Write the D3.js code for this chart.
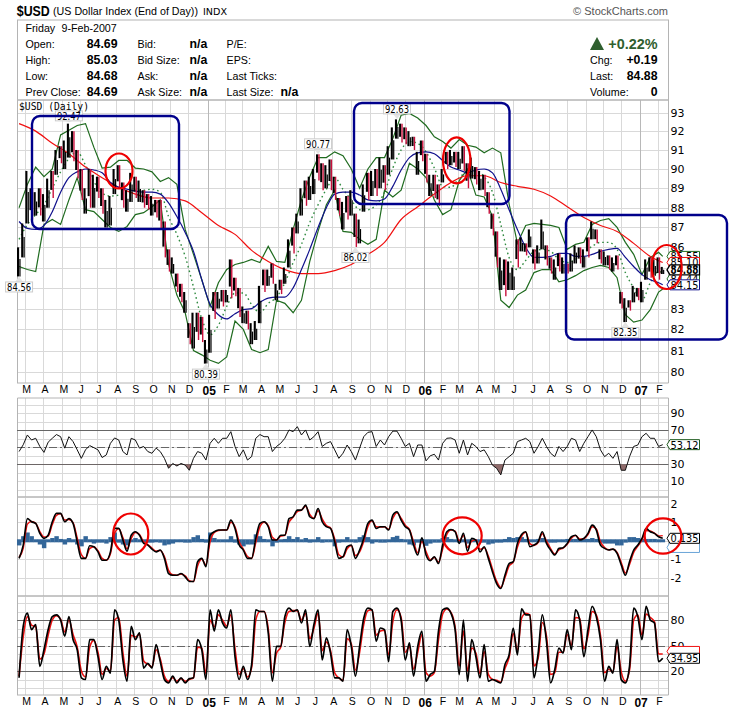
<!DOCTYPE html>
<html><head><meta charset="utf-8">
<script src="https://d3js.org/d3.v7.min.js"></script>
<style>
html,body{margin:0;padding:0;background:#fff}
svg{display:block}
text{font-family:"Liberation Sans",Arial,sans-serif;fill:#000}
.tick text{font-family:"DejaVu Sans",sans-serif}
</style></head><body><div id="c"></div>
<script>
// ---------- weekly price readings (13 per row = one quarter) ----------
const priceHigh = [
86.0,87.2,89.9,89.0,88.8,89.0,88.7,89.5,89.9,91.0,91.2,91.5,92.4,
92.0,91.0,90.0,89.0,90.0,89.7,89.6,89.0,88.4,88.6,90.0,90.2,89.3,
88.9,89.8,89.6,89.4,88.9,88.7,88.6,88.4,88.4,87.3,85.9,85.5,84.7,
84.2,83.8,82.3,82.8,82.8,82.6,81.5,82.7,83.8,83.8,83.9,83.9,85.4,
84.5,84.0,83.1,82.9,82.3,82.4,84.1,84.9,84.9,85.2,84.2,84.4,85.0,
86.4,87.0,87.7,89.0,89.4,89.6,90.0,90.77,90.3,90.2,90.5,89.6,88.5,
88.3,88.6,88.9,87.7,87.4,89.2,89.8,89.9,90.0,90.6,90.2,91.2,92.2,
92.63,92.4,92.2,92.0,91.7,90.9,91.5,90.8,89.7,89.7,89.2,90.0,90.9,
91.0,90.9,90.9,91.2,90.3,90.6,90.1,89.9,89.7,88.8,87.7,86.8,85.5,
85.4,85.3,85.0,86.4,86.5,86.2,86.9,85.9,86.1,87.4,86.1,85.5,85.4,
85.7,85.5,85.2,85.7,86.1,86.0,85.9,86.5,87.3,86.9,85.9,85.8,85.6,
85.5,85.6,83.8,83.5,83.4,84.1,84.0,84.3,85.4,85.5,85.4,85.5,85.03];
const priceLow = [
84.56,85.5,87.2,87.4,87.6,87.6,87.3,88.0,88.5,89.7,90.3,90.0,90.6,
90.4,89.5,88.4,87.7,88.0,88.0,88.5,87.7,87.0,87.1,88.7,89.0,88.0,
87.8,88.3,88.5,88.3,88.0,87.9,87.6,87.5,86.9,85.5,84.8,84.7,83.8,
83.3,82.8,81.3,81.1,81.5,81.4,80.39,80.9,82.5,83.0,83.1,83.3,83.5,
83.6,82.6,82.3,82.0,81.3,81.5,82.3,83.8,84.1,84.2,83.4,83.7,84.2,
85.0,85.7,86.7,87.6,88.1,88.4,88.7,89.4,88.9,89.0,88.9,88.4,87.6,
86.9,87.4,87.6,86.02,86.2,87.8,88.4,88.6,88.6,89.0,88.9,89.7,90.5,
91.6,91.4,91.3,91.2,91.0,89.7,90.4,89.3,88.6,88.5,88.1,89.3,90.0,
90.2,90.1,90.0,89.9,89.0,89.5,89.2,88.9,88.6,87.7,86.6,85.0,83.9,
83.6,83.9,83.9,85.0,85.8,85.6,86.0,84.9,85.2,85.9,85.1,84.7,84.4,
84.8,84.7,84.7,84.8,85.2,85.2,85.0,85.5,86.4,86.2,85.2,85.1,84.9,
84.8,84.9,83.0,82.35,82.9,83.3,83.4,83.3,84.4,84.5,84.6,84.4,84.68];
const downWeek = [
0,0,0,1,0,1,0,0,1,0,1,0,0,
1,1,1,0,1,0,1,1,0,0,0,1,1,
0,0,1,0,1,1,0,1,1,1,1,0,1,
1,0,1,0,1,1,0,0,1,0,1,0,1,
1,1,0,1,0,0,0,1,0,1,0,1,0,
0,1,0,0,1,0,0,1,1,0,1,1,1,
0,1,0,1,0,0,1,0,1,0,1,0,0,
0,1,1,0,1,0,1,1,0,1,1,0,1,
0,1,0,1,1,0,1,0,1,1,1,1,0,
1,0,0,1,0,1,0,1,0,0,1,1,0,
1,0,1,0,0,1,0,1,0,1,1,0,1,
0,1,1,0,1,0,1,0,0,1,0,1,0];
// ---------- overlays read every 2 weeks (plus the final day) ----------
const bbUpper = [
88.0,89.2,90.1,89.6,90.0,91.8,92.05,92.3,92.4,91.15,90.05,90.1,90.45,
90.45,90.05,90.0,89.85,89.35,89.55,89.2,86.9,85.65,84.4,83.1,84.25,84.9,
85.15,85.25,85.4,85.25,86.05,85.3,85.25,86.9,88.4,89.6,90.6,90.6,90.9,
90.7,90.0,89.0,90.0,90.6,90.6,91.6,92.85,92.95,92.7,92.3,91.7,91.45,
91.1,91.55,91.25,91.15,90.85,91.1,90.85,88.2,86.2,87.1,87.2,87.15,87.1,
87.0,85.9,86.15,86.25,87.15,87.35,87.45,87.0,86.25,85.65,84.65,85.5,85.75,85.55];
const bbLower = [
85.05,84.9,84.8,87.15,87.4,87.15,88.4,89.55,87.9,87.8,87.4,87.0,86.8,
87.05,87.65,87.75,88.05,88.4,85.15,83.65,82.8,81.0,80.8,80.55,80.4,80.7,
82.4,82.0,81.05,80.9,81.05,83.4,83.25,82.8,83.4,85.3,86.8,88.15,88.9,
86.8,86.75,86.4,86.15,86.4,88.9,88.55,88.9,90.3,90.0,89.55,88.4,87.65,
87.9,89.4,90.0,88.65,88.55,87.55,83.4,83.05,83.65,83.9,84.75,84.9,84.9,
84.3,84.4,84.6,84.85,85.0,85.1,85.0,84.5,82.7,82.35,82.45,82.95,83.8,83.95];
const bbMiddle = [
86.4,87.15,87.65,88.15,89.0,89.85,90.55,90.9,90.2,89.35,88.75,88.6,88.65,
88.8,88.9,88.9,88.95,88.8,87.55,86.65,85.55,84.05,82.5,81.75,82.2,83.1,
83.75,83.75,83.2,82.8,83.25,83.55,84.25,85.25,86.15,87.25,88.15,88.95,89.55,
88.95,88.4,87.9,87.9,88.15,88.8,90.05,91.0,91.45,91.35,90.9,90.05,89.1,
89.05,89.55,89.85,89.9,89.6,88.8,87.15,85.5,84.9,85.35,85.8,85.9,85.8,
85.4,85.25,85.4,85.75,86.05,86.25,86.25,85.9,84.75,84.0,83.4,84.25,84.8,84.75];
const ma50 = [
87.3,86.95,86.9,87.1,87.8,88.8,89.55,89.85,90.0,89.95,89.8,89.3,89.05,
88.95,88.85,88.8,88.8,88.7,88.25,87.55,86.75,85.8,84.4,83.2,82.7,82.5,
82.75,82.95,83.0,83.3,83.5,83.55,83.55,84.0,84.9,85.9,87.0,88.0,88.7,
88.8,88.8,88.65,88.4,88.35,88.45,89.1,89.95,90.6,90.85,90.9,90.8,90.45,
90.1,89.95,89.8,89.95,90.0,89.8,88.95,87.9,86.9,86.0,85.5,85.5,85.55,
85.7,85.7,85.55,85.55,85.65,85.8,85.9,85.95,85.5,85.05,84.65,84.4,84.25,84.15];
// read every 4 weeks (plus the final day)
const ma200 = [
92.4,92.0,91.35,90.8,90.1,89.55,89.05,88.7,88.5,88.5,88.35,87.75,87.1,86.65,85.85,85.3,84.9,84.7,84.7,84.85,
85.15,85.65,86.25,87.4,88.05,88.7,89.3,89.65,89.65,89.3,89.1,88.95,88.6,88.05,87.5,87.1,86.8,86.2,85.55,85.25];
// ---------- RSI ----------
const rsi = [
45,53,64.5,58.6,60.6,51,44,56,60.6,65,62.5,49,62.5,
56.7,47,37,47,52,49.6,47,38,41,54.7,61,58.6,45,
41,60.6,58.6,49,51,45,43,49,45,37,25.3,31,28,
31,29,23,37,45,43,35,54.7,60.6,54.7,60.6,60.6,68.4,
51,39,47,35,39,60.6,65,62.5,62.5,45,51,54.7,60.6,
70.4,68.4,74.3,64.5,70.4,58.6,62.5,68.4,51,54.7,56.7,47,37,
43,52.7,45,35,49,62.5,67.6,68.4,51,58.6,52.7,62.5,69,
69,60.6,51,54.7,39,52.7,52.7,34,40,41.8,35,54.7,60.6,
61,58.6,43,58.6,41,54.7,51,45,47,39,29,25.3,17.5,
35,39,43,56.7,58.6,60.6,56.7,43,51,60.6,51,43,39,
51,45,51,60.6,58.6,45,54.7,62.5,70.4,62.5,47,39,43,
37,45,23,23,39,51,52.7,62.5,66.5,60.6,60.6,51,53.12];
// ---------- MACD ----------
const macdLine = [
-.95,-.23,1.2,1.03,.94,.4,.13,.3,1.03,1.48,1.48,1.03,1.2,
.94,-.05,-.95,-.95,-.27,-.32,-.6,-1.05,-1.05,-.6,.67,.67,.04,
-.56,.3,.49,.3,-.14,-.23,-.45,-.6,-.5,-.95,-1.77,-1.86,-1.86,
-1.77,-1.95,-2.2,-2.2,-1.13,-.95,-1.4,.3,.49,.58,.58,.58,1.12,
.67,-.23,-.5,-.95,-.95,.13,.94,1.03,.76,.04,.04,.3,.3,
1.2,1.3,1.66,1.66,1.93,1.3,1.2,1.75,1.03,.76,.67,-.05,-.95,
-.86,-.32,-.23,-.95,-.5,.13,.94,1.12,.67,.76,.76,.58,1.39,
1.57,1.12,.76,.58,-.23,-.77,.16,-.77,-1.08,-.86,-1.23,-.23,.49,
.61,.49,-.14,.4,-.56,.13,.04,-.6,-.32,-.95,-1.68,-2.31,-2.58,
-1.86,-1.23,-1.13,-.14,.34,.49,-.32,-.23,-.05,.49,-.14,-.5,-.77,
-.41,-.38,-.14,.22,.3,.04,.13,.4,.85,.58,-.23,-.41,-.5,
-.45,-.68,-1.3,-1.86,-1.13,-.5,-.23,.13,.67,.49,.4,.22,.135];
const macdSignal = [
-.9,-.4,.9,1.05,.95,.5,.2,.25,.88,1.38,1.46,1.12,1.15,
.98,.15,-.75,-.95,-.42,-.32,-.54,-.95,-1.05,-.7,.4,.65,.17,
-.43,.12,.45,.34,-.05,-.2,-.4,-.56,-.52,-.85,-1.6,-1.84,-1.86,
-1.79,-1.9,-2.15,-2.2,-1.35,-1.0,-1.3,-.05,.45,.56,.58,.58,1.0,
.76,-.05,-.45,-.85,-.95,-.1,.77,1.0,.82,.19,.04,.25,.3,
1.0,1.28,1.58,1.66,1.87,1.43,1.22,1.63,1.18,.82,.69,.1,-.76,
-.88,-.43,-.25,-.8,-.6,-.02,.77,1.08,.76,.74,.76,.62,1.22,
1.52,1.22,.84,.62,-.06,-.65,-.04,-.58,-1.02,-.9,-1.15,-.44,.34,
.58,.52,0,.28,-.36,-.02,.06,-.46,-.38,-.82,-1.53,-2.18,-2.52,
-2.0,-1.36,-1.15,-.35,.24,.46,-.15,-.25,-.09,.38,-.01,-.42,-.71,
-.49,-.39,-.19,.14,.28,.1,.11,.34,.76,.64,-.06,-.37,-.48,
-.46,-.63,-1.17,-1.74,-1.28,-.63,-.29,.05,.56,.53,.42,.26,.28];
const macdHist = [
-.25,.25,.45,.25,0,-.2,-.4,.05,.15,.25,.1,-.2,.15,
.05,-.2,-.3,.25,0,-.15,-.1,-.1,-.15,.2,.45,-.1,-.2,
-.25,.05,.15,.05,-.05,-.1,-.1,0,-.1,-.25,-.2,-.15,0,
-.05,-.1,-.1,.2,.3,.1,-.1,.45,.15,.05,-.05,0,.25,
-.1,-.2,-.3,-.2,-.2,.35,.25,.1,0,-.3,-.1,.05,.1,
.25,.1,.2,0,.15,-.1,0,.2,-.1,-.05,-.05,-.3,-.1,
.05,.2,0,-.1,.2,.3,.2,-.15,-.05,-.1,-.1,-.05,.2,
.27,.1,-.05,-.2,-.25,-.1,.1,-.27,-.15,-.1,-.1,.15,.2,
.1,.05,-.1,.05,-.15,.05,.05,-.1,-.1,-.2,-.15,-.1,-.1,
.1,.2,.15,.2,.2,.1,-.05,.05,.1,.15,-.05,-.1,-.1,
0,.05,.1,.1,.1,0,.1,.1,.15,.1,-.1,-.15,-.15,
-.15,-.25,-.25,-.1,.2,.2,.15,.1,.1,.1,.1,.05,.05];
// ---------- Stochastics ----------
const stochFast = [
12,72.5,88,68.6,74.5,25.5,45,68.6,84,86,80,61,84,
57,45,12,10,57,57,37,10,25.5,17.6,92,80,33,
8,72.5,57,65,23.5,29,23.5,51,31,10,6,14,6,
12,6,11,12,57,45,10,92,67,92,76.5,70.6,92,
37,10,25.5,10,27.5,92,90,90,65,8,49,49,84,
94,90,92,76.5,92,49,74.5,92,33,59,41,12,12,
8,68.6,49,14,49,82,94,92,55,70.6,68.6,31,90,
94,80,33,53,14,49,67,8,15.7,19.6,67,92,94,
88,68.6,15.7,80,8,57,37,12,51,8,10,8,6,
27.5,39,70.6,39,93,86,86,12,41,86,55,6,21.6,
47,41,68.6,45,92,80,37,68.6,96,84,57,8,25.5,
17.6,57,10,6,25.5,94,84,57,96,80,76.5,31,34.95];
const stochSlow = [
14,60,84,74,72,34,40,62,80,85,81,66,80,
63,48,20,13,48,56,42,16,23,20,80,83,42,
14,62,60,63,32,28,25,45,34,14,8,12,8,
11,8,10,12,48,47,17,80,72,86,80,73,86,
46,16,23,13,24,80,90,90,70,18,41,48,77,
90,91,91,80,88,58,70,88,44,54,44,18,12,
9,58,52,21,42,75,91,92,62,67,68,39,78,
92,83,42,49,22,42,63,18,14,18,57,87,93,
89,72,26,67,20,47,41,17,43,16,10,9,7,
23,36,64,45,82,88,86,26,35,77,61,16,18,
42,42,63,50,83,82,46,62,90,86,62,18,22,
19,49,19,8,21,80,86,62,87,83,78,40,40];
// ---------- axis and label lists ----------
const monthLabels = ["M","A","M","J","J","A","S","O","N","D","05","F","M","A","M","J","J","A","S","O","N","D","06","F","M","A","M","J","J","A","S","O","N","D","07","F"];
const priceGrid = [80,81,82,83,84,85,86,87,88,89,90,91,92,93];
const priceTicks = [80,81,82,83,86,87,88,89,90,91,92,93];
const rsiTicks = [10,30,70,90];
const macdTicks = [-2,-1,1,2];
const stochTicks = [20,50,80];
const peakWeeks = [12,0,45,72,81,91,146];
const peakValues = [92.47,84.56,80.39,90.77,86.02,92.63,82.35];
const peakGap = [-6.5,10.5,10.5,-10.5,10.5,-10.5,10.5];

const W=734,H=712,L=17,R=668.5;
const svg=d3.select("#c").append("svg").attr("width",W).attr("height",H).attr("viewBox",`0 0 ${W} ${H}`);
const x=d3.scaleTime().domain([new Date(2004,2,1),new Date(2007,1,1)]).range([25,658]);
const week0=new Date(2004,1,20);
const wk=i=>x(d3.timeDay.offset(week0,7*i));
const xAt2=k=>wk(Math.min(2*k,155));
const xAt4=k=>wk(Math.min(4*k,155));
const months=d3.timeMonth.range(new Date(2004,2,1),new Date(2007,2,1)).map(d=>{const w=d.getDay();return w===6?d3.timeDay.offset(d,2):w===0?d3.timeDay.offset(d,1):d;});

const yP=d3.scaleLog().domain([80,93]).range([372,112.5]);
const yR=d3.scaleLinear().domain([10,90]).range([481.3,413.3]);
const yM=d3.scaleLinear().domain([-2,2]).range([577.8,503.8]);
const yS=d3.scaleLinear().domain([20,80]).range([671,620]);

// ----- panel backgrounds & grid
const GRID="#d9d9d9",FRAME="#b4b4b4";
function panel(top,bot,ys,vals){
  const g=svg.append("g");
  g.selectAll("line.h").data(vals).join("line").attr("x1",L).attr("x2",R).attr("y1",d=>Math.round(ys(d))+.5).attr("y2",d=>Math.round(ys(d))+.5).attr("stroke",GRID);
  g.selectAll("line.v").data(months).join("line").attr("y1",top).attr("y2",bot)
    .attr("x1",d=>Math.round(x(d))+.5).attr("x2",d=>Math.round(x(d))+.5)
    .attr("stroke",d=>d.getMonth()===0?"#b8b8b8":GRID);
  g.append("path").attr("d",`M${L}.5 ${bot}V${top}H${R}V${bot}H${L}`).attr("fill","none").attr("stroke",FRAME);
}
panel(100,383,yP,priceGrid);
panel(398,497,yR,d3.range(0,101,10));
panel(497,596,yM,[-2,-1,0,1,2]);
panel(596,695,yS,d3.range(0,101,10));

// ----- right axes
function rightAxis(scale,vals){
  const a=svg.append("g").attr("transform",`translate(${R},0)`).call(d3.axisRight(scale).tickValues(vals).tickSize(0).tickPadding(2).tickFormat(d=>d));
  a.select(".domain").remove();
  a.selectAll("text").attr("font-size",11).style("fill","#000");
}
rightAxis(yP,priceTicks);rightAxis(yR,rsiTicks);rightAxis(yM,macdTicks);rightAxis(yS,stochTicks);

// ----- bottom month labels
function monthAxis(yPos){
  const a=svg.append("g").attr("transform",`translate(0,${yPos})`).call(d3.axisBottom(x).tickValues(months).tickSize(0).tickPadding(0).tickFormat((d,i)=>monthLabels[i]));
  a.select(".domain").remove();
  a.selectAll("text").attr("font-size",d=>d.getMonth()===0?12:10.5).attr("font-weight",d=>d.getMonth()===0?"bold":"normal").style("font-family",'"Liberation Sans",sans-serif').style("fill","#000").attr("dx",1);
}
monthAxis(386);monthAxis(698);

// ----- reference lines in lower panels
function hline(ys,v,dash){svg.append("line").attr("x1",L).attr("x2",R).attr("y1",Math.round(ys(v))+.5).attr("y2",Math.round(ys(v))+.5).attr("stroke","#666").attr("stroke-dasharray",dash||null);}
[70,30].forEach(v=>hline(yR,v));hline(yR,50,"8 3 2 3");
[80,20].forEach(v=>hline(yS,v));hline(yS,50,"8 3 2 3");

// ----- price overlays
const line=(xf,yf)=>d3.line().x((d,i)=>xf(i)).y(d=>yf(d));
const smooth=(xf,yf)=>line(xf,yf).curve(d3.curveMonotoneX);
svg.append("path").attr("d",smooth(xAt2,yP)(bbMiddle)).attr("fill","none").attr("stroke","#2f8a3f").attr("stroke-width",1.4).attr("stroke-dasharray","1.6 3");
svg.append("path").attr("d",line(xAt2,yP)(bbUpper)).attr("fill","none").attr("stroke","#1f6b1f").attr("stroke-width",1.2);
svg.append("path").attr("d",line(xAt2,yP)(bbLower)).attr("fill","none").attr("stroke","#1f6b1f").attr("stroke-width",1.2);
svg.append("path").attr("d",smooth(xAt4,yP)(ma200)).attr("fill","none").attr("stroke","#f01010").attr("stroke-width",1.2);
svg.append("path").attr("d",smooth(xAt2,yP)(ma50)).attr("fill","none").attr("stroke","#10108c").attr("stroke-width",1.2);

// ----- price bars: a black stroke plus a red or black companion each week
const bars=svg.append("g");
bars.selectAll("line.k").data(priceHigh).join("line").attr("class","k")
  .attr("x1",(d,i)=>wk(i)-1).attr("x2",(d,i)=>wk(i)-1)
  .attr("y1",d=>yP(d))
  .attr("y2",(d,i)=>downWeek[i]?yP(priceLow[i])-(yP(priceLow[i])-yP(d))*.3:yP(priceLow[i]))
  .attr("stroke","#000").attr("stroke-width",2.1);
bars.selectAll("line.c").data(priceHigh).join("line").attr("class","c")
  .attr("x1",(d,i)=>wk(i)+.9).attr("x2",(d,i)=>wk(i)+.9)
  .attr("y1",(d,i)=>downWeek[i]?yP(d):yP(priceLow[i])-(yP(priceLow[i])-yP(d))*.6)
  .attr("y2",(d,i)=>yP(priceLow[i]))
  .attr("stroke",(d,i)=>downWeek[i]?"#c8103c":"#000")
  .attr("stroke-width",(d,i)=>downWeek[i]?1.4:1.2);

// ----- RSI
const rsiArea=d3.area().x((d,i)=>wk(i)).y0(yR(30)).y1(d=>yR(d));
svg.append("clipPath").attr("id","os").append("rect").attr("x",L).attr("y",yR(30)).attr("width",R-L).attr("height",40);
svg.append("path").attr("d",rsiArea(rsi)).attr("fill","#8f6a6a").attr("clip-path","url(#os)");
svg.append("path").attr("d",line(wk,yR)(rsi)).attr("fill","none").attr("stroke","#111").attr("stroke-width",1);

// ----- MACD
const hw=wk(1)-wk(0);
svg.append("g").selectAll("rect").data(macdHist).join("rect")
  .attr("x",(d,i)=>wk(i)-hw/2).attr("width",hw+.3)
  .attr("y",d=>Math.min(yM(d),yM(0)-1.5)).attr("height",d=>Math.max(yM(d),yM(0)+1.5)-Math.min(yM(d),yM(0)-1.5))
  .attr("fill","#336699");
svg.append("path").attr("d",smooth(wk,yM)(macdSignal)).attr("fill","none").attr("stroke","#ee1111").attr("stroke-width",1.5);
svg.append("path").attr("d",smooth(wk,yM)(macdLine)).attr("fill","none").attr("stroke","#000").attr("stroke-width",1.6);

// ----- Stochastics
svg.append("path").attr("d",smooth(wk,yS)(stochSlow)).attr("fill","none").attr("stroke","#ee1111").attr("stroke-width",1.6);
svg.append("path").attr("d",smooth(wk,yS)(stochFast)).attr("fill","none").attr("stroke","#000").attr("stroke-width",1.7);

// ----- peak call-outs
peakValues.forEach((v,i)=>{
  const g=svg.append("g"),cx=wk(peakWeeks[i]),py=yP(v),gap=peakGap[i],s=Math.sign(gap),cy=py+gap;
  g.append("path").attr("d",`M${cx} ${py}L${cx-4} ${cy-s*5}H${cx+4}Z`).attr("fill","#e4e4e4");
  g.append("rect").attr("x",cx-13.5).attr("y",cy-5).attr("width",27).attr("height",10).attr("fill","#fff").attr("stroke","#ccc");
  g.append("text").attr("x",cx).attr("y",cy+3.7).attr("text-anchor","middle").attr("font-size",10).style("font-family",'"DejaVu Sans",sans-serif').attr("textLength",24).attr("lengthAdjust","spacingAndGlyphs").text(v.toFixed(2));
});

// ----- last-value tags
function tag(yc,t,col,opts={}){
  const g=svg.append("g"),top=yc-5,tip=opts.tip||667,x0=670,x1=699.5;
  g.append("path").attr("d",`M${tip} ${yc}L${x0} ${top}H${x1}V${top+10}H${x0}Z`).attr("fill","#fff").attr("stroke",col).attr("stroke-width",opts.sw||1);
  if(t) g.append("text").attr("x",x0+.5).attr("y",yc+4).attr("font-size",opts.bold?12:11).attr("font-weight",opts.bold?"bold":"normal").style("font-family",'"DejaVu Sans",sans-serif').attr("textLength",28).attr("lengthAdjust","spacingAndGlyphs").text(t);
}
tag(yP(85.55),"85.55","#1f6b1f");
tag(yP(85.25),"85.10","#f01010");
tag(yP(84.44),"84.44","#1f6b1f");
tag(yP(84.15),"84.15","#10108c");
tag(yP(84.88),"84.88","#000",{bold:true,sw:1.3});
tag(yR(53.12),"53.12","#1f5b1f");
tag(yM(-.36),"","#6aa5d8");
tag(yM(.135),"0.135","#000");
tag(yS(43),"","#f01010");
tag(yS(34.95),"34.95","#000");

// ----- header
const T=(s,px,py,o={})=>{const t=svg.append("text").attr("x",px).attr("y",py).attr("font-size",o.size||10.7).attr("font-weight",o.bold?"bold":"normal").attr("text-anchor",o.anchor||"start").style("fill",o.fill||"#000").style("font-family",o.font||null).style("letter-spacing",o.ls||null).text(s);if(o.len)t.attr("textLength",o.len).attr("lengthAdjust","spacingAndGlyphs");return t;};
T("$USD",16.8,15.8,{size:14.5,bold:true,len:33});
T("(US Dollar Index (End of Day))",53,15.3,{size:11.5,len:145});
T("INDX",203,15.3,{size:9.5,font:'"DejaVu Sans",sans-serif',len:24});
T("© StockCharts.com",668,15,{size:11,anchor:"end",fill:"#555"});
svg.append("rect").attr("x",17.5).attr("y",20).attr("width",R-17.5).attr("height",80).attr("fill","none").attr("stroke",FRAME);
T("Friday",25.5,31.7);
T("9-Feb-2007",61.5,31.7);
const rows=[47.7,63.6,79.6,95.7];
["Open:","High:","Low:","Prev Close:"].forEach((s,i)=>T(s,25.5,rows[i]));
["84.69","85.03","84.68","84.69"].forEach((s,i)=>T(s,117.5,rows[i],{bold:true,size:12.3,anchor:"end"}));
["Bid:","Bid Size:","Ask:","Ask Size:"].forEach((s,i)=>T(s,137.5,rows[i]));
[0,1,2,3].forEach(i=>T("n/a",189.5,rows[i],{bold:true,size:12.3}));
["P/E:","EPS:","Last Ticks:","Last Size:"].forEach((s,i)=>T(s,226.5,rows[i]));
T("n/a",280.5,rows[3],{bold:true,size:12.3});
svg.append("path").attr("d","M590 50L597 37L604 50Z").attr("fill","#2f5f2f");
T("+0.22%",657.5,49,{bold:true,size:14.4,anchor:"end",fill:"#2f5f2f"});
["Chg:","Last:","Volume:"].forEach((s,i)=>T(s,590,rows[i+1]));
["+0.19","84.88","0"].forEach((s,i)=>T(s,657.5,rows[i+1],{bold:true,size:12.3,anchor:"end"}));
T("$USD (Daily)",19,110,{size:10,font:'"DejaVu Sans Mono",monospace',len:70});

// ----- hand-drawn annotations
const boxes=[[32,116,147,113],[354,103,155.5,101],[566,215,161,124.5]];
svg.append("g").selectAll("rect").data(boxes).join("rect")
  .attr("x",d=>d[0]).attr("y",d=>d[1]).attr("width",d=>d[2]).attr("height",d=>d[3]).attr("rx",8)
  .attr("fill","none").attr("stroke","#00008b").attr("stroke-width",2.4);
const ell=[[119,171,13.5,17.5],[456.7,160.3,13.7,23],[666.7,267,15,22],[130.8,534,17.5,20.5],[462.2,535.8,19.5,18.5],[663,536,18.3,17.7]];
svg.append("g").selectAll("ellipse").data(ell).join("ellipse")
  .attr("cx",d=>d[0]).attr("cy",d=>d[1]).attr("rx",d=>d[2]).attr("ry",d=>d[3])
  .attr("fill","none").attr("stroke","#ee0000").attr("stroke-width",2.2);
</script></body></html>
